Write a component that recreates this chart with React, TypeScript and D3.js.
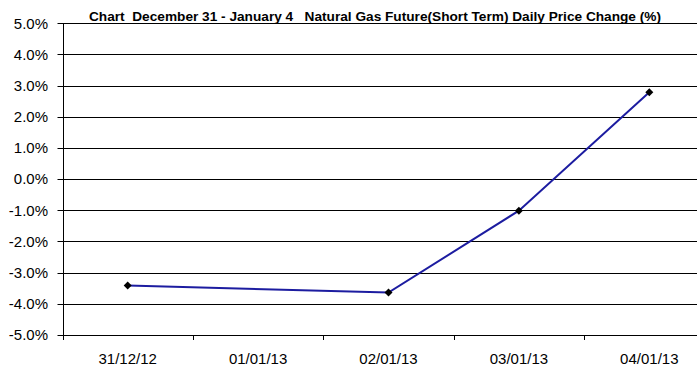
import React from "react";
import * as d3 from "d3";

const categories = ["31/12/12", "01/01/13", "02/01/13", "03/01/13", "04/01/13"];
const values: (number | null)[] = [-3.41, null, -3.64, -1.01, 2.79];
const yTicks = [5, 4, 3, 2, 1, 0, -1, -2, -3, -4, -5];
const title = "Chart  December 31 - January 4   Natural Gas Future(Short Term) Daily Price Change (%)";

const W = 697;
const H = 378;
const left = 62.5;
const top = 23.3;
const bottom = 335;
const bandW = 130.4;

export default function App() {
  const x = d3.scaleBand<string>().domain(categories).range([left, left + bandW * categories.length]).padding(0);
  const y = d3.scaleLinear().domain([-5, 5]).range([bottom, top]);
  const pts = categories
    .map((c, i) => ({ c, v: values[i] }))
    .filter((d) => d.v !== null) as { c: string; v: number }[];
  const line = d3
    .line<{ c: string; v: number }>()
    .x((d) => (x(d.c) as number) + x.bandwidth() / 2)
    .y((d) => y(d.v));
  const font = "'Liberation Sans', Arial, sans-serif";
  const ticksX = categories.map((c) => x(c) as number);
  return (
    <svg width={W} height={H} style={{ position: "absolute", left: 0, top: 0, background: "#fff" }} fontFamily={font}>
      <rect x={0} y={0} width={W} height={H} fill="#fff" />
      {yTicks.map((t) => (
        <g key={t}>
          <line x1={left - 5} x2={W} y1={Math.round(y(t)) + 0.5} y2={Math.round(y(t)) + 0.5} stroke="#000" strokeWidth={1} />
          <text x={48} y={y(t)} dy="0.35em" textAnchor="end" fontSize={15} fill="#000">
            {t.toFixed(1) + "%"}
          </text>
        </g>
      ))}
      <line x1={Math.round(left) + 0.5} x2={Math.round(left) + 0.5} y1={top} y2={bottom + 4} stroke="#000" strokeWidth={1} />
      {ticksX.map((tx, i) => (
        <line key={i} x1={Math.round(tx) + 0.5} x2={Math.round(tx) + 0.5} y1={bottom} y2={bottom + 5} stroke="#000" strokeWidth={1} />
      ))}
      {categories.map((c) => (
        <text key={c} x={(x(c) as number) + x.bandwidth() / 2} y={364} textAnchor="middle" fontSize={15} fill="#000">
          {c}
        </text>
      ))}
      <text x={89} y={20.5} fontSize={12.5} fontWeight="bold" fill="#000" textLength={572} lengthAdjust="spacingAndGlyphs" style={{ whiteSpace: "pre" }}>
        {title}
      </text>
      <path d={line(pts) || ""} fill="none" stroke="#1c1ca0" strokeWidth={2} />
      {pts.map((d) => {
        const cx = (x(d.c) as number) + x.bandwidth() / 2;
        const cy = y(d.v);
        const s = 4;
        return <path key={d.c} d={`M${cx},${cy - s}L${cx + s},${cy}L${cx},${cy + s}L${cx - s},${cy}Z`} fill="#000" />;
      })}
    </svg>
  );
}
